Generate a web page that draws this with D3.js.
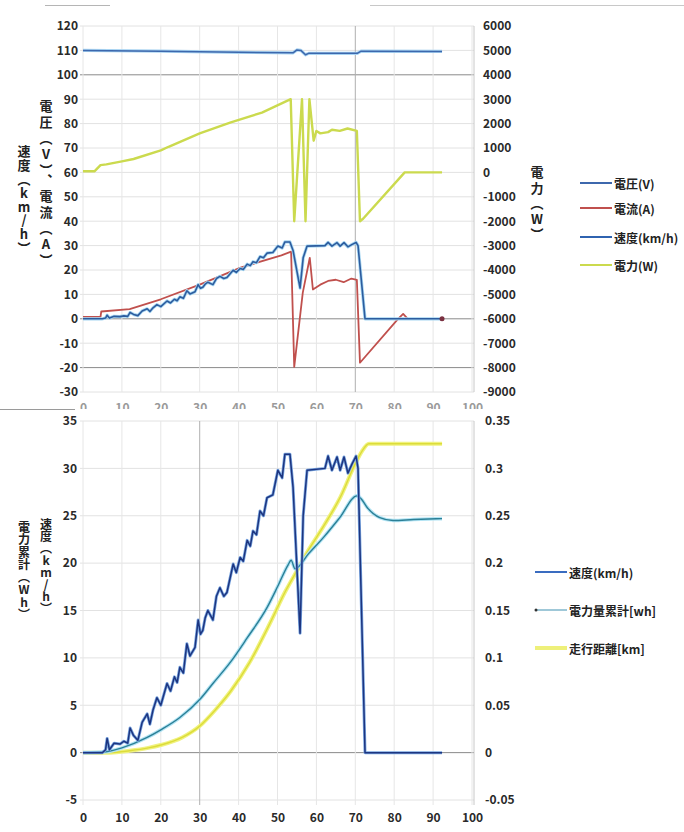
<!DOCTYPE html>
<html>
<head>
<meta charset="utf-8">
<script src="https://cdn.jsdelivr.net/npm/d3@7"></script>
<style>
  body { margin: 0; background: #fff; }
  svg text { font-family: "Noto Sans CJK JP", "Liberation Sans", sans-serif; }
  .vt { writing-mode: vertical-rl; text-orientation: upright; }
</style>
</head>
<body>
<script>
// time [s] ticks and axis ticks
var timeTicks = [0, 10, 20, 30, 40, 50, 60, 70, 80, 90, 100];
var topLeftTicks = [120, 110, 100, 90, 80, 70, 60, 50, 40, 30, 20, 10, 0, -10, -20, -30];
var topRightTicks = [6000, 5000, 4000, 3000, 2000, 1000, 0, -1000, -2000, -3000, -4000, -5000, -6000, -7000, -8000, -9000];
var botLeftTicks = [35, 30, 25, 20, 15, 10, 5, 0, -5];
var botRightTicks = [0.35, 0.3, 0.25, 0.2, 0.15, 0.1, 0.05, 0, -0.05];

// 速度 km/h  [t, v]  (same run in both charts)
var speed = [[0,0],[5,0],[5.8,0.3],[6.2,1.5],[6.8,0.3],[8,1.0],[9.5,0.9],[10.5,1.2],[11.5,1.0],[12.1,2.6],[13,1.8],
  [14.1,1.3],[15.2,3.2],[16.5,4.1],[17.2,3.0],[18,4.5],[19,5.8],[20,5.0],[21.6,7.3],[22.5,6.5],[23.5,8.0],[24.2,7.4],
  [24.9,9],[25.8,8.4],[26.7,11.5],[27.5,10.2],[28.8,11.1],[29.6,14],[30.2,12.5],[30.8,12.9],[31.4,14.2],[32.1,15],
  [33.4,14],[34.3,16.5],[35.2,17.4],[36.2,16.5],[37,16.9],[38.6,19.9],[39.4,19.0],[40.4,20.6],[41.2,20.2],[42.2,22.4],
  [43,21.8],[43.7,23.4],[44.6,23.0],[45.5,25.5],[46.4,25.0],[47.3,26.9],[48.8,27.2],[50.1,29.8],[51.2,29],[51.9,31.5],
  [53.2,31.5],[54,28],[55.8,12.6],[56.6,25],[57.6,29.8],[62.2,30],[63,31.3],[64,29.8],[65.3,31.2],[66.1,29.8],
  [67.1,31.2],[68.1,29.5],[69.2,30.5],[70.2,31.3],[70.7,30],[72.5,0],[92.3,0]];

// 電圧 V
var voltage = [[0,110],[20,109.7],[40,109.2],[54,109.0],[55,110.2],[56,110.0],[57.2,108.2],[58,108.8],
  [70.5,108.8],[71.5,109.7],[92.3,109.6]];

// 電流 A
var current = [[0,0.8],[4.5,0.8],[4.7,3],[12,4],[20,8],[30,14],[40.5,21],[51,26],[53.5,27.5],[54.3,-19.7],
  [56.5,10.7],[58.3,25],[59.1,12],[61,14],[63,15.5],[65,16],[67,15],[69,16.5],[70.4,16],[71.2,-18],
  [81,0],[82.3,2],[83.5,0],[92.3,0]];

// 電力 W
var power = [[0,50],[3,50],[4.5,300],[6,330],[10,450],[13,550],[20,900],[22,1050],[30,1600],[38,2050],[46,2450],
  [53.4,3000],[54.3,-2000],[56.3,3000],[57.2,-2000],[58.2,3000],[59.3,1300],[60,1700],[61,1600],[63,1650],
  [64,1750],[66,1700],[68,1800],[70.4,1700],[71.2,-2000],[72,-1900],[82.7,0],[92.3,0]];

// 電力量累計 Wh
var energy = [[0,0],[6,0.1],[10,0.5],[16.5,1.6],[20,2.4],[24.9,3.7],[30,5.6],[33.4,7.3],[38,9.6],[42.2,12.1],
  [47.3,15.3],[50,17.5],[52.7,19.8],[53.5,20.3],[54.5,19.4],[58,21.0],[62,22.8],[66,24.8],[70.4,27.1],
  [71.5,26.8],[73,25.9],[76.3,24.8],[79.7,24.5],[85,24.6],[92.3,24.7]];

// 走行距離 km
var distance = [[0,0],[7,0],[12,0.002],[16.8,0.005],[20,0.008],[25.5,0.016],[30,0.028],[34,0.045],[38,0.065],
  [42.8,0.095],[48,0.136],[52,0.17],[55,0.192],[57.4,0.21],[62,0.24],[66.2,0.27],[70,0.305],[71.7,0.318],
  [73.5,0.326],[92.3,0.326]];

var svg = d3.select("body").append("svg").attr("width", 684).attr("height", 832);

var x = d3.scaleLinear().domain([0, 100]).range([83, 472]);

var y1L = d3.scaleLinear().domain([-30, 120]).range([392, 26]);
var y1R = d3.scaleLinear().domain([-9000, 6000]).range([392, 26]);
var y2L = d3.scaleLinear().domain([-5, 35]).range([800, 421]);
var y2R = d3.scaleLinear().domain([-0.05, 0.35]).range([800, 421]);

function grid(g, yScale, yTicks, strong, vStrong, y0, y1) {
  yTicks.forEach(function (v) {
    g.append("line").attr("x1", 80).attr("x2", 474).attr("y1", yScale(v)).attr("y2", yScale(v))
      .attr("stroke", strong.indexOf(v) >= 0 ? "#8a8a8a" : "#e2e2e2").attr("stroke-width", 1);
  });
  timeTicks.forEach(function (t) {
    g.append("line").attr("x1", x(t)).attr("x2", x(t)).attr("y1", y0).attr("y2", y1)
      .attr("stroke", vStrong.indexOf(t) >= 0 ? "#b0b0b0" : "#e6e6e6").attr("stroke-width", 1);
  });
  g.append("line").attr("x1", 474).attr("x2", 474).attr("y1", y0).attr("y2", y1).attr("stroke", "#c8c8c8");
}

// vertical axis title (Japanese vertical writing)
function vtext(x0, yTop, spacing, str, size) {
  svg.append("text").attr("class", "vt").attr("x", x0).attr("y", yTop)
    .attr("font-size", size).attr("font-weight", "bold").attr("fill", "#222")
    .style("letter-spacing", spacing + "px").text(str);
}

function styleAxis(g) {
  g.select(".domain").remove();
  g.selectAll("text").attr("font-size", 12).attr("font-weight", "bold").attr("fill", "#2a2a2a")
    .attr("font-family", "'Liberation Sans', sans-serif");
}

function drawLine(data, yScale, color, width, curve) {
  var line = d3.line().x(function (d) { return x(d[0]); }).y(function (d) { return yScale(d[1]); })
    .curve(curve || d3.curveLinear);
  return svg.append("path").datum(data).attr("d", line).attr("fill", "none")
    .attr("stroke", color).attr("stroke-width", width).attr("stroke-linejoin", "round");
}

// ---------- top chart ----------
var gTop = svg.append("g");
grid(gTop, y1L, topLeftTicks, [100, 0, -20], [70], 26, 392);

svg.append("g").attr("transform", "translate(81,0)")
  .call(d3.axisLeft(y1L).tickValues(topLeftTicks).tickSize(0).tickPadding(3).tickFormat(String))
  .call(styleAxis);
svg.append("g").attr("transform", "translate(479,0)")
  .call(d3.axisRight(y1R).tickValues(topRightTicks).tickSize(0).tickPadding(4).tickFormat(String))
  .call(styleAxis);
svg.append("g").attr("transform", "translate(0,400)")
  .call(d3.axisBottom(x).tickValues(timeTicks).tickSize(0).tickPadding(3).tickFormat(String))
  .call(styleAxis)
  .selectAll("text").attr("fill", "#9a9a9a");

drawLine(power, y1R, "#cbda4e", 2.4);
drawLine(voltage, y1L, "#a9d4f2", 3.2);
drawLine(voltage, y1L, "#3d68ad", 1.5);
drawLine(current, y1L, "#c0504d", 1.8);
drawLine(speed, y1L, "#a6d6f2", 3.2);
drawLine(speed, y1L, "#2d5c9e", 1.6);
svg.append("circle").attr("cx", x(current[current.length - 1][0])).attr("cy", y1L(0)).attr("r", 2.5)
  .attr("fill", "#7a3040");

vtext(24, 145, 0.8, "速度（km/h）", 13);
vtext(46, 100, 3, "電圧（V）、電流（A）", 13);
vtext(537, 166, 2.5, "電力（W）", 13);

var topLegend = [["電圧(V)", "#3d68ad"], ["電流(A)", "#c0504d"], ["速度(km/h)", "#2f63b0"], ["電力(W)", "#cbda4e"]];
var topLegendY = [183, 208, 237, 265];
topLegend.forEach(function (d, i) {
  svg.append("line").attr("x1", 580).attr("x2", 612).attr("y1", topLegendY[i]).attr("y2", topLegendY[i])
    .attr("stroke", d[1]).attr("stroke-width", 2);
  svg.append("text").attr("x", 614).attr("y", topLegendY[i]).attr("dominant-baseline", "central")
    .attr("font-size", 12).attr("font-weight", "bold").attr("fill", "#222").text(d[0]);
});

// ---------- bottom chart ----------
svg.append("rect").attr("x", 0).attr("y", 409).attr("width", 684).attr("height", 423).attr("fill", "#fff");
svg.append("line").attr("x1", 0).attr("x2", 75).attr("y1", 409.5).attr("y2", 409.5).attr("stroke", "#9a9a9a");
svg.append("line").attr("x1", 45).attr("x2", 110).attr("y1", 5.5).attr("y2", 5.5).attr("stroke", "#b5b5b5");
svg.append("line").attr("x1", 370).attr("x2", 684).attr("y1", 5.5).attr("y2", 5.5).attr("stroke", "#c8c8c8");

var gBot = svg.append("g");
grid(gBot, y2L, botLeftTicks, [0], [30], 421, 805);

svg.append("g").attr("transform", "translate(81,0)")
  .call(d3.axisLeft(y2L).tickValues(botLeftTicks).tickSize(0).tickPadding(4).tickFormat(String))
  .call(styleAxis);
svg.append("g").attr("transform", "translate(481,0)")
  .call(d3.axisRight(y2R).tickValues(botRightTicks).tickSize(0).tickPadding(4).tickFormat(String))
  .call(styleAxis);
svg.append("g").attr("transform", "translate(0,810)")
  .call(d3.axisBottom(x).tickValues(timeTicks).tickSize(0).tickPadding(3).tickFormat(String))
  .call(styleAxis);

drawLine(distance, y2R, "#f0f27e", 4, d3.curveMonotoneX);
drawLine(distance, y2R, "#dcdc3a", 1.4, d3.curveMonotoneX);
drawLine(energy, y2L, "#b2e4f4", 3.6, d3.curveMonotoneX);
drawLine(energy, y2L, "#2b7f96", 1.4, d3.curveMonotoneX);
drawLine(speed, y2L, "#7aa6e0", 3);
drawLine(speed, y2L, "#1d3580", 1.5);

vtext(24, 521, 0.5, "電力累計（Wh）", 12);
vtext(46, 518, 0, "速度（km/h）", 12);

var botLegend = [["速度(km/h)", "#3a6cc0"], ["電力量累計[wh]", "#9fc8d8"], ["走行距離[km]", "#eef07a"]];
var botLegendY = [572, 610, 648];
botLegend.forEach(function (d, i) {
  svg.append("line").attr("x1", 535).attr("x2", 567).attr("y1", botLegendY[i]).attr("y2", botLegendY[i])
    .attr("stroke", d[1]).attr("stroke-width", i == 2 ? 4 : 2);
  svg.append("text").attr("x", 569).attr("y", botLegendY[i]).attr("dominant-baseline", "central")
    .attr("font-size", 12).attr("font-weight", "bold").attr("fill", "#222").text(d[0]);
});
svg.append("circle").attr("cx", 536).attr("cy", 610).attr("r", 1.5).attr("fill", "#333");
</script>
</body>
</html>
